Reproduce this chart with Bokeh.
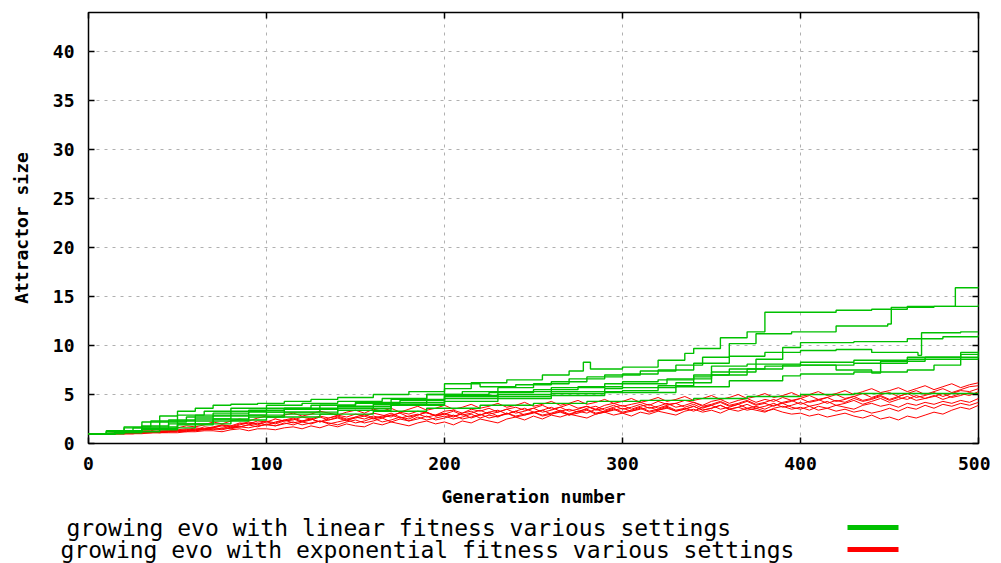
from bokeh.plotting import figure
from bokeh.models import Range1d, LinearAxis, FixedTicker, ColumnDataSource, CustomLabelingPolicy
from bokeh.layouts import column, row
from bokeh.core.properties import value
from bokeh.embed import file_html
from bokeh.resources import INLINE

# ---------------- data ----------------
x_ticks = [0, 100, 200, 300, 400, 500]
y_ticks = [0, 5, 10, 15, 20, 25, 30, 35, 40]
legend_labels = ["growing evo with linear fitness various settings",
                 "growing evo with exponential fitness various settings"]

# green: linear fitness runs (step-like)
g1_x = [0,10,20,30,40,50,60,70,80,95,110,125,140,160,180,200,215,235,255,270,278,282,300,320,335,340,355,370,380,400,420,440,460,487,500]
g1_y = [1,1.2,1.6,2.2,2.8,3.3,3.6,3.9,4.0,4.1,4.3,4.5,4.7,5.0,5.3,5.6,6.2,6.5,7.0,7.4,8.3,7.6,7.8,8.5,9.2,9.7,10.8,11.4,13.4,13.4,13.6,13.7,14.0,15.9,16.0]
g2_x = [0,10,20,35,50,65,80,100,120,140,165,190,210,230,250,270,290,310,330,345,360,375,395,420,449,451,475,500]
g2_y = [1,1.3,1.7,2.3,2.9,3.3,3.6,3.9,4.1,4.3,4.6,5.0,5.3,5.7,6.1,6.6,7.0,7.4,8.0,8.8,10.2,11.2,11.4,12.0,12.2,13.9,14.0,14.2]
g3_x = [0,10,25,40,55,70,90,110,130,150,170,190,200,220,240,260,280,300,320,340,360,380,400,420,440,466,468,490,500]
g3_y = [1,1.2,1.6,2.2,2.7,3.1,3.4,3.6,3.9,4.2,4.5,5.0,6.1,5.8,6.0,6.3,6.8,7.1,7.5,8.2,8.9,9.3,9.5,9.6,9.3,9.0,11.3,11.4,11.4]
g4_x = [0,15,30,45,60,80,100,125,150,175,200,225,250,275,300,325,350,375,390,400,430,460,480,500]
g4_y = [1,1.3,1.8,2.4,2.9,3.3,3.6,3.9,4.1,4.4,5.0,5.2,5.5,5.8,6.1,6.6,7.3,8.6,9.8,10.3,10.4,10.7,10.9,11.1]
g5_x = [0,15,30,45,60,80,100,130,160,190,200,230,260,290,300,330,350,370,390,400,430,460,490,500]
g5_y = [1,1.2,1.5,2.0,2.5,2.9,3.2,3.6,4.0,4.5,4.8,5.0,5.3,5.6,5.7,6.2,7.0,7.6,8.0,8.3,8.5,8.8,9.3,9.5]
g6_x = [0,15,30,50,70,90,110,140,170,200,230,260,290,300,320,340,350,370,400,420,440,445,470,500]
g6_y = [1,1.2,1.5,2.0,2.5,2.9,3.2,3.6,4.0,4.6,4.8,5.1,5.3,5.4,5.9,6.8,7.9,8.1,8.0,7.5,7.2,8.4,8.8,9.2]
g7_x = [0,15,30,50,70,90,110,140,170,200,230,260,290,300,330,360,390,400,430,460,475,490,500]
g7_y = [1,1.1,1.4,1.9,2.3,2.7,3.0,3.4,3.9,4.3,4.6,4.9,5.2,5.2,5.8,6.4,6.9,7.1,7.3,7.5,8.0,8.6,9.0]
g8_x = [0,20,40,60,80,100,130,160,190,220,250,280,310,340,370,400,430,460,500]
g8_y = [1,1.2,1.6,2.0,2.4,2.7,3.0,3.3,3.6,3.9,4.1,4.3,4.4,4.6,4.8,5.0,5.1,5.1,5.2]
g9_x = [0,15,30,50,70,90,110,140,170,200,230,260,290,300,320,340,360,380,400,430,460,490,500]
g9_y = [1,1.3,1.7,2.3,2.8,3.2,3.5,3.8,4.2,4.9,5.3,5.7,6.1,6.3,6.5,7.0,7.6,7.9,8.0,8.2,8.6,9.1,9.3]

# red: exponential fitness runs, sampled every 5 generations (0..500)
red_gen = list(range(0, 505, 5))
r1 = [1,1,1,1.1,1.1,1.2,1.3,1.3,1.5,1.4,
      1.6,1.8,1.7,1.9,2.2,2.0,2.3,2.5,2.3,2.6,
      2.8,2.6,2.9,3.1,2.8,3.0,3.3,3.1,2.9,3.2,
      3.4,3.1,3.5,3.3,3.6,3.2,3.5,3.8,3.4,3.6,
      3.9,3.5,3.7,4.0,3.6,3.8,4.1,3.7,3.9,4.2,
      3.8,4.0,4.3,3.9,4.1,4.4,4.0,4.2,4.5,4.1,
      4.3,4.6,4.2,4.4,4.7,4.3,4.5,4.8,4.4,4.6,
      4.9,4.5,4.7,5.0,4.6,4.8,5.1,4.7,4.9,5.2,
      4.8,5.0,5.3,4.9,5.1,5.4,5.0,5.3,5.6,5.2,
      5.4,5.7,5.3,5.6,5.9,5.5,5.8,6.1,5.7,6.0,
      6.2]
r2 = [1,1,1,1,1.1,1.1,1.2,1.2,1.3,1.3,
      1.4,1.5,1.4,1.7,1.6,1.9,1.8,2.1,2.0,2.3,
      2.2,2.5,2.3,2.4,2.7,2.5,2.8,2.6,2.9,2.7,
      3.0,2.8,3.1,2.9,2.7,3.2,3.0,3.3,3.1,2.9,
      3.3,3.4,3.1,3.5,3.3,3.6,3.2,3.5,3.7,3.4,
      3.6,3.9,3.5,3.7,4.0,3.6,3.8,3.5,3.9,4.1,
      3.8,4.0,4.2,3.9,4.3,4.0,4.1,4.4,4.2,3.9,
      4.3,4.5,4.1,4.4,4.6,4.2,4.5,4.3,4.7,4.4,
      4.6,4.9,4.5,4.7,5.0,4.6,4.8,5.1,4.7,5.0,
      5.2,4.8,5.1,5.4,5.0,5.3,5.6,5.2,5.5,5.8,
      5.9]
r3 = [1,1,1,1,1,1.1,1.1,1.2,1.1,1.2,
      1.3,1.3,1.5,1.4,1.6,1.8,1.6,1.9,2.1,1.9,
      2.2,2.0,2.3,2.5,2.2,2.4,2.7,2.4,2.6,2.3,
      2.7,2.5,2.8,2.6,2.9,3.1,2.7,2.9,3.2,2.8,
      3.0,3.3,2.9,3.1,3.4,3.0,3.2,3.5,3.1,3.3,
      3.6,3.2,3.4,3.7,3.3,3.5,3.8,3.4,3.6,3.9,
      3.5,3.7,4.0,3.6,3.8,4.1,3.7,3.9,4.2,3.8,
      4.0,4.3,3.9,4.1,4.4,4.0,4.2,4.5,4.1,4.3,
      4.6,4.2,4.4,4.7,4.3,4.5,4.8,4.4,4.6,4.9,
      4.5,4.8,5.1,4.7,4.9,5.2,4.8,5.1,5.4,5.3,
      5.6]
r4 = [1,1,1,1,1,1,1.1,1.1,1.1,1.2,
      1.2,1.3,1.3,1.4,1.5,1.4,1.6,1.7,1.6,1.8,
      1.9,1.8,2.0,2.2,1.9,2.1,2.3,2.0,2.2,2.4,
      2.1,2.3,2.6,2.2,2.4,2.7,2.3,2.5,2.8,2.4,
      2.6,2.9,2.5,2.7,3.0,2.6,2.8,3.1,2.7,2.9,
      3.2,2.8,3.0,3.3,2.9,3.1,3.4,3.0,3.2,3.5,
      3.1,3.3,3.6,3.2,3.4,3.7,3.3,3.5,3.8,3.4,
      3.6,3.9,3.5,3.7,4.0,3.6,3.8,4.1,3.7,3.9,
      4.2,3.8,4.0,4.3,3.9,4.1,4.4,4.0,4.3,4.6,
      4.2,4.5,4.8,4.4,4.6,4.9,4.5,4.8,5.1,4.9,
      5.3]
r5 = [1,1,1,1,1.1,1.1,1.1,1.2,1.2,1.3,
      1.3,1.4,1.6,1.5,1.7,1.9,1.7,2.0,2.2,2.0,
      2.3,2.1,2.4,2.6,2.3,2.5,2.2,2.6,2.8,2.5,
      2.7,3.0,2.6,2.8,3.1,2.7,2.5,2.9,3.2,2.8,
      3.0,2.7,3.1,3.3,2.9,3.2,3.4,3.0,3.3,3.6,
      3.2,3.4,3.7,3.3,3.5,3.2,3.6,3.8,3.4,3.7,
      3.9,3.5,3.8,4.0,3.6,3.9,4.1,3.7,4.0,3.6,
      3.9,4.2,3.8,4.0,4.3,3.9,4.1,3.8,4.2,4.4,
      4.0,4.3,4.5,4.1,4.4,4.2,4.6,4.3,4.5,4.8,
      4.4,4.7,4.5,4.9,4.6,4.8,5.1,4.7,4.9,5.2,
      5.0]
r6 = [1,1,1,1,1,1,1,1.1,1.1,1.1,
      1.1,1.2,1.2,1.3,1.3,1.2,1.4,1.5,1.3,1.5,
      1.5,1.4,1.6,1.7,1.5,1.8,1.6,1.9,1.7,2.0,
      1.8,1.7,2.1,1.9,2.2,2.0,1.8,2.1,2.3,2.0,
      2.2,1.9,2.3,2.1,2.5,2.3,2.1,2.5,2.7,2.4,
      2.8,2.5,2.9,2.7,3.0,2.8,2.6,3.0,3.2,2.9,
      3.1,2.8,3.2,3.0,3.3,3.1,2.9,3.3,3.5,3.2,
      3.4,3.1,3.5,3.3,3.6,3.4,3.2,3.6,3.8,3.5,
      3.7,3.4,3.8,3.6,3.9,3.7,3.5,3.9,4.1,3.8,
      4.0,3.7,4.1,3.9,4.2,4.0,4.3,4.1,4.4,4.2,
      4.6]
r7 = [1,1,1,1,1,1.1,1.1,1.1,1.2,1.2,
      1.3,1.2,1.4,1.5,1.4,1.6,1.5,1.7,1.9,1.7,
      2.0,1.8,2.1,1.9,2.2,2.0,2.3,2.1,1.9,2.2,
      2.4,2.1,2.3,2.6,2.2,2.5,2.3,2.7,2.4,2.6,
      2.8,2.5,2.7,3.0,2.6,2.9,2.7,3.1,2.8,3.0,
      3.2,2.9,3.1,3.4,3.0,3.3,3.1,3.5,3.2,3.4,
      3.6,3.3,3.5,3.7,3.4,3.6,3.3,3.5,3.8,3.4,
      3.6,3.9,3.5,3.7,3.4,3.6,3.3,3.5,3.2,3.0,
      3.1,2.8,3.0,2.7,2.9,3.1,2.8,2.6,2.9,2.5,
      2.7,2.4,2.8,2.6,2.9,3.2,3.0,3.4,3.7,3.5,
      3.9]
r8 = [1,1,1,1,1,1,1.1,1.1,1.2,1.2,
      1.3,1.4,1.3,1.5,1.6,1.5,1.8,1.7,1.9,2.1,
      1.9,2.2,2.4,2.1,2.3,2.5,2.2,2.4,2.7,2.4,
      2.6,2.8,2.5,2.7,2.9,2.6,2.8,3.0,2.7,2.9,
      3.1,2.8,3.0,2.6,2.9,3.2,2.8,3.0,3.3,2.9,
      3.1,3.4,3.0,3.2,2.9,3.3,3.5,3.1,3.3,3.6,
      3.2,3.4,3.7,3.3,3.5,3.8,3.4,3.6,3.3,3.7,
      3.9,3.5,3.7,4.0,3.6,3.8,3.5,3.9,4.1,3.7,
      3.5,3.8,3.4,3.6,3.3,3.5,3.2,3.4,3.1,3.3,
      3.6,3.3,3.7,3.5,3.9,3.6,4.0,3.8,4.1,3.9,
      4.2]

green_runs = [(g1_x, g1_y), (g2_x, g2_y), (g3_x, g3_y), (g4_x, g4_y), (g5_x, g5_y),
              (g6_x, g6_y), (g7_x, g7_y), (g8_x, g8_y), (g9_x, g9_y)]
red_runs = [r1, r2, r3, r4, r5, r6, r7, r8]

GREEN = "#00c000"
RED = "#ff0000"
MONO = "DejaVu Sans Mono"

# ---------------- main figure ----------------
p = figure(width=990, height=510, output_backend="svg", toolbar_location=None,
           x_range=Range1d(0, 500), y_range=Range1d(0, 44),
           min_border_left=88, min_border_right=12, min_border_top=12, min_border_bottom=67)
p.outline_line_color = "black"
p.outline_line_width = 1.5

for rx in red_runs:
    p.line(red_gen, rx, line_color=RED, line_width=1)
for gx, gy in green_runs:
    p.step(gx, gy, mode="after", line_color=GREEN, line_width=1.4)

# mirror ticks (top / right) without labels
no_labels = CustomLabelingPolicy(code="return new Set()")
p.add_layout(LinearAxis(major_label_policy=no_labels), "right")
p.add_layout(LinearAxis(major_label_policy=no_labels), "above")
p.xaxis.ticker = FixedTicker(ticks=x_ticks)
p.yaxis.ticker = FixedTicker(ticks=y_ticks)
for ax in p.xaxis + p.yaxis:
    ax.major_tick_in = 6
    ax.major_tick_out = 0
    ax.minor_tick_in = 0
    ax.minor_tick_out = 0
    ax.axis_line_color = None
    ax.major_tick_line_color = "black"
    ax.major_tick_line_width = 1.5
    ax.major_label_text_font = MONO
    ax.major_label_text_font_style = "bold"
    ax.major_label_text_font_size = "18px"
    ax.major_label_text_color = "black"
    ax.axis_label_text_font = MONO
    ax.axis_label_text_font_style = "bold"
    ax.axis_label_text_font_size = "18px"
    ax.axis_label_text_color = "black"
for ax in (p.right[0], p.above[0]):
    ax.major_label_standoff = 0
    ax.major_label_text_font_size = "1px"

p.below[0].major_label_standoff = 13
p.left[0].major_label_standoff = 14
p.below[0].axis_label = "Generation number"
p.left[0].axis_label = "Attractor size"
p.below[0].axis_label_standoff = 13
p.left[0].axis_label_standoff = 18

p.xgrid.ticker = FixedTicker(ticks=x_ticks)
p.ygrid.ticker = FixedTicker(ticks=y_ticks)
for g in (p.xgrid[0], p.ygrid[0]):
    g.grid_line_color = "#b0b0b0"
    g.grid_line_dash = "3 5"
    g.grid_line_width = 1

# ---------------- legend strip (own frame spans the whole strip) ----------------
leg = figure(width=990, height=53, output_backend="svg", toolbar_location=None,
             x_range=Range1d(0, 990), y_range=Range1d(53, 0),
             x_axis_location=None, y_axis_location=None,
             min_border=0, min_border_left=0, min_border_right=0,
             min_border_top=0, min_border_bottom=0)
leg.grid.visible = False
leg.outline_line_color = None
leg_src = ColumnDataSource(dict(x=[66, 60], y=[17, 39], t=legend_labels,
                                x0=[847, 847], x1=[898, 898], c=[GREEN, RED]))
leg.text(x="x", y="y", text="t", source=leg_src, text_font=value(MONO),
         text_font_size="23px", text_baseline="middle", text_align="left", text_color="black")
leg.segment(x0="x0", y0="y", x1="x1", y1="y", source=leg_src, line_color="c", line_width=5)

layout = column(p, row(leg, spacing=0), spacing=0)
open("out.html", "w").write(file_html(layout, INLINE))
